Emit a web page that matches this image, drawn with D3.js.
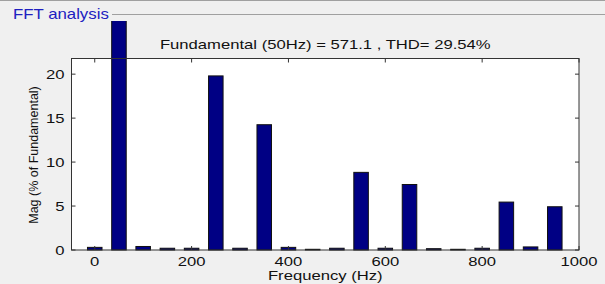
<!DOCTYPE html>
<html><head><meta charset="utf-8">
<script src="https://cdn.jsdelivr.net/npm/d3@7"></script>
<style>
html,body{margin:0;padding:0;background:#f0f0f0;}
svg{display:block;font-family:"Liberation Sans",Arial,sans-serif;}
</style></head><body>
<svg id="c" width="605" height="284"></svg>
<script>
const freqs = [0,50,100,150,200,250,300,350,400,450,500,550,600,650,700,750,800,850,900,950];
const mags  = [0.3,100,0.4,0.2,0.2,19.8,0.2,14.25,0.3,0.08,0.2,8.83,0.2,7.45,0.15,0.08,0.2,5.45,0.35,4.92];
const xTicks = [0,200,400,600,800,1000];
const yTicks = [0,5,10,15,20];
const titleText = "Fundamental (50Hz) = 571.1 , THD= 29.54%";
const panelTitle = "FFT analysis";

const svg = d3.select("#c");
const L=71.5, R=579, T=58.5, B=250;
const x = d3.scaleLinear().domain([-48,1000]).range([L,R]);
const y = d3.scaleLinear().domain([0,21.78]).range([B,T]);
const bw = x(30)-x(0);
const SX = 1.28;

// panel
svg.append("line").attr("x1",0).attr("x2",605).attr("y1",0.5).attr("y2",0.5).attr("stroke","#a0a0a0");
svg.append("line").attr("x1",112).attr("x2",605).attr("y1",14.5).attr("y2",14.5).attr("stroke","#a0a0a0");
svg.append("text").attr("transform",`translate(13,19) scale(1.2,1)`).attr("fill","#2020c0").attr("font-size",14).text(panelTitle);

// axes bg
svg.append("rect").attr("x",L).attr("y",T).attr("width",R-L).attr("height",B-T).attr("fill","#fff");

svg.append("defs").append("clipPath").attr("id","cl").append("rect")
  .attr("x",0).attr("y",21).attr("width",605).attr("height",263);

svg.append("g").attr("clip-path","url(#cl)").selectAll("rect").data(freqs).join("rect")
  .attr("x",d=>x(d)-bw/2).attr("width",bw)
  .attr("y",(d,i)=>y(mags[i])).attr("height",(d,i)=>B-y(mags[i]))
  .attr("fill","#000084").attr("stroke","#111").attr("stroke-width",1);

// box
svg.append("rect").attr("x",L).attr("y",T).attr("width",R-L).attr("height",B-T)
  .attr("fill","none").attr("stroke","#333").attr("stroke-width",1);

const tl=4;
const g = svg.append("g").attr("stroke","#333");
xTicks.forEach(t=>{
  g.append("line").attr("x1",x(t)).attr("x2",x(t)).attr("y1",B).attr("y2",B-tl);
  g.append("line").attr("x1",x(t)).attr("x2",x(t)).attr("y1",T).attr("y2",T+tl);
});
yTicks.forEach(t=>{
  g.append("line").attr("x1",L).attr("x2",L+tl).attr("y1",y(t)).attr("y2",y(t));
  g.append("line").attr("x1",R).attr("x2",R-tl).attr("y1",y(t)).attr("y2",y(t));
});

svg.append("g").selectAll("text").data(xTicks).join("text")
  .attr("transform",d=>`translate(${x(d)},265.5) scale(${SX},1)`).attr("text-anchor","middle").attr("font-size",13).attr("fill","#111").text(d=>d);
svg.append("g").selectAll("text").data(yTicks).join("text")
  .attr("transform",d=>`translate(64.5,${y(d)+4.5}) scale(${SX},1)`).attr("text-anchor","end").attr("font-size",13).attr("fill","#111").text(d=>d);

svg.append("text").attr("transform",`translate(${(L+R)/2},49) scale(${SX},1)`).attr("text-anchor","middle").attr("font-size",13).attr("fill","#111").text(titleText);
svg.append("text").attr("transform",`translate(${(L+R)/2},279.5) scale(${SX},1)`).attr("text-anchor","middle").attr("font-size",13).attr("fill","#111").text("Frequency (Hz)");
svg.append("text").attr("transform","translate(38,155) rotate(-90)").attr("text-anchor","middle").attr("font-size",12.5).attr("fill","#111").text("Mag (% of Fundamental)");
</script></body></html>
